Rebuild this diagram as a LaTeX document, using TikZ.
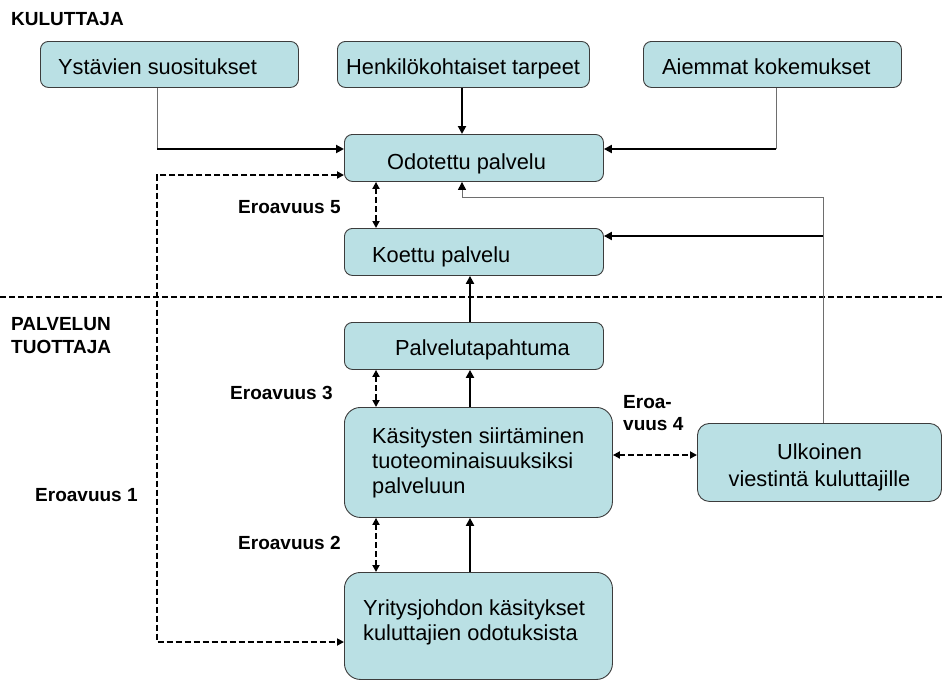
\documentclass[tikz,border=0pt]{standalone}
\usepackage{fontspec}
\setmainfont{Liberation Sans}
\usetikzlibrary{arrows.meta}
\definecolor{boxfill}{RGB}{186,224,228}
\definecolor{boxline}{RGB}{60,60,60}
\definecolor{thinline}{RGB}{110,110,110}
\tikzset{
  box/.style={draw=boxline, line width=0.9pt, fill=boxfill, rounded corners=#1, anchor=north west, inner sep=0pt},
  box/.default=8pt,
  txt/.style={inner sep=0pt, font=\fontsize{21.8}{25}\selectfont, align=left},
  lbl/.style={inner sep=0pt, font=\fontsize{19}{23}\selectfont\bfseries, align=left},
  blacktip/.style={-{Triangle[length=8pt,width=8pt,color=black]}},
  arr/.style={line width=2pt, -{Triangle[length=8pt,width=8pt]}},
  darr/.style={line width=2pt, dash pattern=on 6pt off 3pt, {Triangle[length=7pt,width=7pt]}-{Triangle[length=7pt,width=7pt]}},
  grayline/.style={line width=1pt, draw=thinline},
  sepline/.style={line width=1.5pt, dash pattern=on 6pt off 3pt}
}
\begin{document}
\begin{tikzpicture}[x=1pt,y=-1pt]
\useasboundingbox (0,0) rectangle (945,680);

% boxes
\node[box, minimum width=258pt, minimum height=46pt] (ys)  at (40,41) {};
\node[box, minimum width=252pt, minimum height=46pt] (hen) at (337,41) {};
\node[box, minimum width=258pt, minimum height=46pt] (aie) at (643,41) {};
\node[box, minimum width=259pt, minimum height=47pt] (odo) at (344,134) {};
\node[box, minimum width=259pt, minimum height=47pt] (koe) at (344,228) {};
\node[box, minimum width=259pt, minimum height=47pt] (pal) at (344,322) {};
\node[box=16pt, minimum width=268pt, minimum height=110pt] (kas) at (344,407) {};
\node[box=16pt, minimum width=268pt, minimum height=107pt] (yri) at (344,572) {};
\node[box=12pt, minimum width=244pt, minimum height=78pt] (ulk) at (697,423) {};

% box texts
\node[txt, anchor=base west] (tys)  at (58,74)   {Ystävien suositukset};
\node[txt, anchor=base west] (then) at (346,74)  {Henkilökohtaiset tarpeet};
\node[txt, anchor=base west] (taie) at (662,74)  {Aiemmat kokemukset};
\node[txt, anchor=base west] (todo) at (387,169.5) {Odotettu palvelu};
\node[txt, anchor=base west] (tkoe) at (372,262.3) {Koettu palvelu};
\node[txt, anchor=base west] (tpal) at (395,355)   {Palvelutapahtuma};
\node[txt, anchor=base west] (tkas1) at (372,443.3) {Käsitysten siirtäminen};
\node[txt, anchor=base west] (tkas2) at (372,468.3) {tuoteominaisuuksiksi};
\node[txt, anchor=base west] (tkas3) at (372,493.3) {palveluun};
\node[txt, anchor=base west] (tyri1) at (363,615)   {Yritysjohdon käsitykset};
\node[txt, anchor=base west] (tyri2) at (363,640)   {kuluttajien odotuksista};
\node[txt, anchor=base] (tulk1) at (819.5,459.3) {Ulkoinen};
\node[txt, anchor=base] (tulk2) at (819.5,486)   {viestintä kuluttajille};

% labels
\node[lbl, anchor=base west] (kul)  at (11,25)    {KULUTTAJA};
\node[lbl, anchor=base west] (pt1)  at (11,330)   {PALVELUN};
\node[lbl, anchor=base west] (pt2)  at (11,353.3) {TUOTTAJA};
\node[lbl, anchor=base west] (e5)   at (238,213.3) {Eroavuus 5};
\node[lbl, anchor=base west] (e3)   at (230,399.3) {Eroavuus 3};
\node[lbl, anchor=base west] (e4a)  at (623,408.3) {Eroa-};
\node[lbl, anchor=base west] (e4b)  at (623,430.7) {vuus 4};
\node[lbl, anchor=base west] (e2)   at (238,549.3) {Eroavuus 2};
\node[lbl, anchor=base west] (e1)   at (35,501.7)  {Eroavuus 1};

% helper coordinates
\coordinate (xL) at (376,0);
\coordinate (xM) at (470,0);
\coordinate (c1) at (157,149);
\coordinate (c2) at (776,149);
\coordinate (c3) at (823,197);
\coordinate (c4) at (823,236);
\coordinate (c5) at (462,197);
\coordinate (y4) at (0,455);
\coordinate (e1a) at (157,175);
\coordinate (e1b) at (157,642);
\coordinate (sepL) at (0,297);
\coordinate (sepR) at (945,297);

% separator
\draw[sepline] (sepL) -- (sepR);

% consumer side
\draw[grayline] (ys.south -| c1) -- (c1);
\draw[arr] (c1) -- (c1 -| odo.west);
\draw[arr] (hen.south -| c5) -- (odo.north -| c5);
\draw[grayline] (aie.south -| c2) -- (c2);
\draw[arr] (c2) -- (c2 -| odo.east);
\draw[grayline, blacktip] (ulk.north -| c3) -- (c3) -- (c5) -- (odo.south -| c5);
\draw[arr] (c4) -- (c4 -| koe.east);

% gaps
\draw[darr] (odo.south -| xL) -- (koe.north -| xL);
\draw[darr] (pal.south -| xL) -- (kas.north -| xL);
\draw[darr] (kas.south -| xL) -- (yri.north -| xL);
\draw[darr] (kas.east |- y4) -- (ulk.west |- y4);
\draw[darr] (e1a -| odo.west) -- (e1a) -- (e1b) -- (e1b -| yri.west);

% provider flow
\draw[arr] (pal.north -| xM) -- (koe.south -| xM);
\draw[arr] (kas.north -| xM) -- (pal.south -| xM);
\draw[arr] (yri.north -| xM) -- (kas.south -| xM);
\end{tikzpicture}
\end{document}
